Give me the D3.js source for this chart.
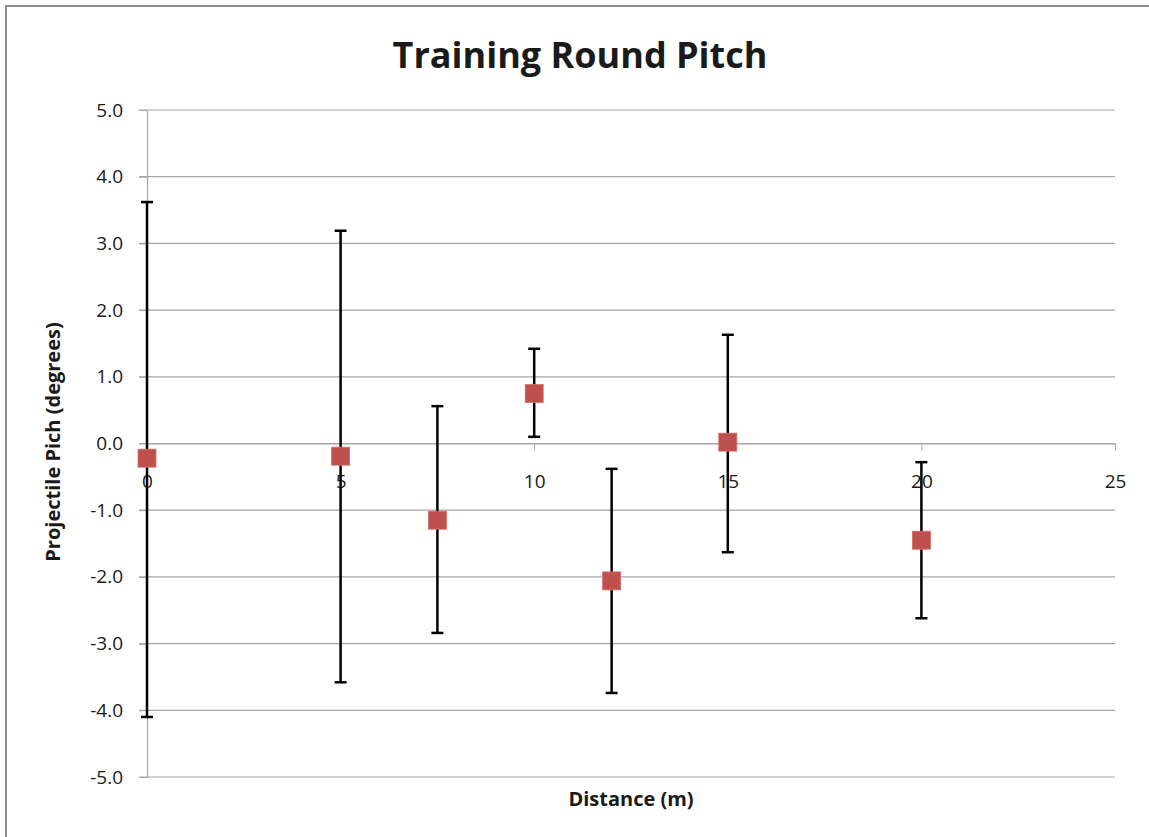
<!DOCTYPE html>
<html>
<head>
<meta charset="utf-8">
<script src="https://cdn.jsdelivr.net/npm/d3@7"></script>
<style>
  body { margin: 0; background: #fff; }
  text { font-family: "Open Sans", "Noto Sans", sans-serif; fill: #1a1a1a; }
</style>
</head>
<body>
<svg id="chart" width="1149" height="837"></svg>
<script>
'use strict'

// distance (m) of each training round
const distances = [0, 5, 7.5, 10, 12, 15, 20]
// mean projectile pitch (degrees)
const pitchMeans = [-0.22, -0.19, -1.15, 0.75, -2.06, 0.02, -1.45]
// error bar ends (degrees)
const pitchHigh = [3.62, 3.19, 0.56, 1.42, -0.38, 1.63, -0.28]
const pitchLow = [-4.10, -3.58, -2.84, 0.10, -3.74, -1.63, -2.62]

const xTicks = [0, 5, 10, 15, 20, 25]
const yTicks = [5, 4, 3, 2, 1, 0, -1, -2, -3, -4, -5]

const rows = distances.map((d, i) => ({
  d,
  mean: pitchMeans[i],
  hi: pitchHigh[i],
  lo: pitchLow[i]
}))

const svg = d3.select('#chart')

// outer chart border
svg.append('rect')
  .attr('x', 6).attr('y', 6)
  .attr('width', 1160).attr('height', 850)
  .attr('fill', 'none')
  .attr('stroke', '#8c8c8c')
  .attr('stroke-width', 2)

const x = d3.scaleLinear().domain([0, 25]).range([147, 1115])
const y = d3.scaleLinear().domain([-5, 5]).range([777, 110])

// plain hyphen instead of d3's unicode minus, like the original
const fmtY = v => d3.format('.1f')(v).replace('\u2212', '-')

// horizontal gridlines
svg.append('g')
  .selectAll('line')
  .data(yTicks)
  .join('line')
  .attr('x1', x(0) - 8)
  .attr('x2', x(25))
  .attr('y1', d => y(d))
  .attr('y2', d => y(d))
  .attr('stroke', '#a6a6a6')
  .attr('stroke-width', 1.2)

// y axis
const yAxis = svg.append('g')
  .attr('transform', `translate(${x(0)},0)`)
  .call(d3.axisLeft(y).tickValues(yTicks).tickFormat(fmtY).tickSize(8).tickSizeOuter(0))
yAxis.select('.domain').attr('stroke', '#a6a6a6').attr('stroke-width', 1.2)
yAxis.selectAll('.tick line').attr('stroke', '#a6a6a6')
yAxis.selectAll('.tick text')
  .attr('x', -24)
  .style('font-size', '19px')
  .attr('fill', '#1a1a1a')

// x axis through zero
const xAxis = svg.append('g')
  .attr('transform', `translate(0,${y(0)})`)
  .call(d3.axisBottom(x).tickValues(xTicks).tickSize(7).tickSizeOuter(0))
xAxis.select('.domain').attr('stroke', '#a6a6a6').attr('stroke-width', 1.2)
xAxis.selectAll('.tick line').attr('stroke', '#a6a6a6')
xAxis.selectAll('.tick text')
  .attr('y', 38)
  .attr('dy', '0.35em')
  .style('font-size', '19px')
  .attr('fill', '#1a1a1a')

// error bars
const bars = svg.append('g')
  .selectAll('g')
  .data(rows)
  .join('g')
  .attr('stroke', '#000')
  .attr('stroke-width', 2.5)

bars.append('line')
  .attr('x1', r => x(r.d)).attr('x2', r => x(r.d))
  .attr('y1', r => y(r.hi)).attr('y2', r => y(r.lo))
bars.append('line')
  .attr('x1', r => x(r.d) - 6).attr('x2', r => x(r.d) + 6)
  .attr('y1', r => y(r.hi)).attr('y2', r => y(r.hi))
bars.append('line')
  .attr('x1', r => x(r.d) - 6).attr('x2', r => x(r.d) + 6)
  .attr('y1', r => y(r.lo)).attr('y2', r => y(r.lo))

// markers
const size = 18
svg.append('g')
  .selectAll('rect')
  .data(rows)
  .join('rect')
  .attr('x', r => x(r.d) - size / 2)
  .attr('y', r => y(r.mean) - size / 2)
  .attr('width', size)
  .attr('height', size)
  .attr('fill', '#c0504d')
  .attr('stroke', '#d0706d')
  .attr('stroke-width', 0.8)

// title and axis labels
svg.append('text')
  .attr('x', 580).attr('y', 68)
  .attr('text-anchor', 'middle')
  .style('font-size', '36px')
  .style('font-weight', 'bold')
  .text('Training Round Pitch')

svg.append('text')
  .attr('x', 631).attr('y', 806)
  .attr('text-anchor', 'middle')
  .style('font-size', '20px')
  .style('font-weight', 'bold')
  .text('Distance (m)')

svg.append('text')
  .attr('transform', 'translate(60,442) rotate(-90)')
  .attr('text-anchor', 'middle')
  .style('font-size', '20px')
  .style('font-weight', 'bold')
  .text('Projectile Pich (degrees)')
</script>
</body>
</html>
